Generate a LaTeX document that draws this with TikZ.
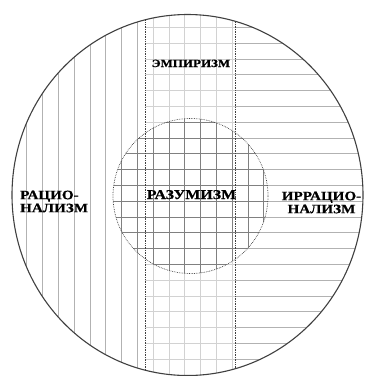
\documentclass[tikz,border=0pt]{standalone}
\usepackage{fontspec}
\setmainfont{Liberation Serif}
\newfontfamily\labelfont[FakeStretch=1.18, FakeBold=0.6]{Liberation Serif Bold}

\tikzset{
  hatch/.style={gray!60, line width=0.6pt},
  band/.style={gray!35, line width=0.6pt},
  core/.style={black!50, line width=0.6pt},
  rim/.style={black!75, densely dotted, line width=0.7pt},
  edge/.style={black!75, line width=1.1pt},
  tag/.style 2 args={inner sep=0pt, font=\labelfont\fontsize{#1}{#2}\selectfont},
}

\begin{document}
\begin{tikzpicture}[x=1pt,y=-1pt]
    \useasboundingbox (0,0) rectangle (369,376);
    \coordinate (o) at (187.5,195);
    \coordinate (c) at (190.5,196);

    % left part: vertical lines
    \begin{scope}
        \clip (o) ellipse [x radius=175.5pt, y radius=180.5pt];
        \clip (0,0) rectangle (145,376);
        \foreach \k in {0,...,8}
            \draw [hatch] (10.8+15.8*\k,0) -- ++(0,376);
    \end{scope}

    % right part: horizontal lines
    \begin{scope}
        \clip (o) ellipse [x radius=175.5pt, y radius=180.5pt];
        \clip (235,0) rectangle (369,376);
        \foreach \k in {0,...,22}
            \draw [hatch] (235,27.2+15.8*\k) -- ++(134,0);
    \end{scope}

    % middle band: both
    \begin{scope}
        \clip (o) ellipse [x radius=175.5pt, y radius=180.5pt];
        \clip (145,0) rectangle (235,376);
        \foreach \k in {9,...,14}
            \draw [band] (10.8+15.8*\k,0) -- ++(0,376);
        \foreach \k in {0,...,22}
            \draw [band] (145,27.2+15.8*\k) -- ++(90,0);
    \end{scope}

    % inner circle: full grid
    \begin{scope}
        \clip (c) circle [radius=77.5pt];
        \foreach \k in {6,...,16}
            \draw [core] (10.8+15.8*\k,0) -- ++(0,376);
        \foreach \k in {5,...,15}
            \draw [core] (0,27.2+15.8*\k) -- ++(369,0);
    \end{scope}

    % band borders
    \begin{scope}
        \clip (o) ellipse [x radius=175.5pt, y radius=180.5pt];
        \draw [rim] (145,0) -- (145,376);
        \draw [rim] (235,0) -- (235,376);
    \end{scope}

    \draw [rim] (c) circle [radius=77.5pt];
    \draw [edge] (o) ellipse [x radius=175.5pt, y radius=180.5pt];

    \node [tag={11}{13}, anchor=base] (emp) at (191,67) {ЭМПИРИЗМ};
    \node [tag={13.5}{15}, anchor=base] (raz) at (191.5,199) {РАЗУМИЗМ};
    \node [tag={12.8}{13}, align=left, anchor=north west] (rac) at (20,190.5) {РАЦИО-\\НАЛИЗМ};
    \node [tag={12.8}{13}, align=center, anchor=north] (irr) at (321.5,191.5) {ИРРАЦИО-\\НАЛИЗМ};
\end{tikzpicture}
\end{document}
